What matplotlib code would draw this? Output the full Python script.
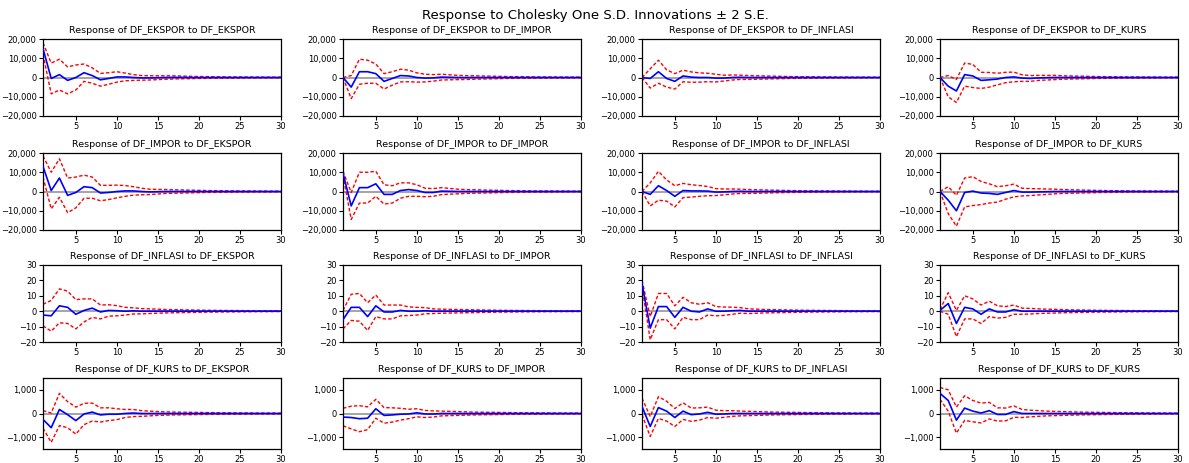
import matplotlib
matplotlib.use("Agg")
import matplotlib.pyplot as plt
import matplotlib.ticker as mticker
import numpy as np

plt.rcParams['font.family'] = ['DejaVu Sans']

periods = np.arange(1, 31)
shocks = ["DF_EKSPOR", "DF_IMPOR", "DF_INFLASI", "DF_KURS"]

# impulse responses (rows = response variable, cols = shock) and 2 S.E. widths
irf_ekspor_ekspor = [15000, -500, 1500, -1500, 0, 2500, 1000, -1200, -500, 300, 300, 0, -200, -200, -100,
                     0, 50, 50, 0, 0, 0, 0, 0, 0, 0, 0, 0, 0, 0, 0]
se2_ekspor_ekspor = [3000, 8000, 8000, 7000, 6500, 4500, 4000, 3300, 3000, 2700, 2000, 1500, 1200, 1100, 1000,
                     900, 800, 700, 600, 500, 450, 400, 350, 300, 300, 250, 250, 200, 200, 200]
irf_ekspor_impor = [0, -5000, 3000, 3000, 2000, -2000, -500, 1000, 800, 0, -300, -200, 200, 100, 0,
                    -50, 0, 0, 0, 0, 0, 0, 0, 0, 0, 0, 0, 0, 0, 0]
se2_ekspor_impor = [0, 6000, 6500, 6000, 5000, 4000, 3500, 3300, 3000, 2400, 2000, 1700, 1500, 1300, 1100,
                    1000, 900, 800, 700, 600, 500, 450, 400, 350, 300, 300, 250, 250, 200, 200]
irf_ekspor_inflasi = [0, -500, 3000, -500, -2000, 800, 200, 0, 0, -300, -300, 0, 100, 0, 0,
                      0, 0, 0, 0, 0, 0, 0, 0, 0, 0, 0, 0, 0, 0, 0]
se2_ekspor_inflasi = [0, 5000, 6000, 4500, 4000, 3000, 2700, 2400, 2200, 2000, 1500, 1300, 1100, 1000, 900,
                      800, 700, 600, 500, 450, 400, 350, 300, 300, 250, 250, 200, 200, 150, 150]
irf_ekspor_kurs = [0, -4500, -7000, 1500, 800, -1500, -1200, -800, 0, 300, -300, -500, -200, -100, 0,
                   0, 0, 0, 0, 0, 0, 0, 0, 0, 0, 0, 0, 0, 0, 0]
se2_ekspor_kurs = [0, 5500, 6000, 6000, 6000, 4200, 3800, 3000, 2700, 2500, 1700, 1500, 1300, 1200, 1100,
                   900, 800, 700, 600, 500, 450, 400, 350, 300, 300, 250, 250, 200, 200, 200]

irf_impor_ekspor = [13000, 500, 7000, -2000, -500, 2500, 2000, -800, -500, 0, 300, 300, 0, -200, -100,
                    0, 0, 0, 0, 0, 0, 0, 0, 0, 0, 0, 0, 0, 0, 0]
se2_impor_ekspor = [5500, 9500, 10000, 9000, 8000, 6000, 5500, 4000, 3700, 3300, 2800, 2200, 1700, 1400, 1200,
                    1000, 900, 800, 700, 600, 500, 450, 400, 350, 300, 300, 250, 250, 200, 200]
irf_impor_impor = [9500, -7500, 2000, 2000, 4000, -1500, -1500, 500, 1000, 500, -500, -500, 200, 100, 0,
                   0, 0, 0, 0, 0, 0, 0, 0, 0, 0, 0, 0, 0, 0, 0]
se2_impor_impor = [1000, 7000, 8000, 8000, 6500, 5000, 4500, 4000, 3500, 3000, 2200, 2000, 1800, 1500, 1200,
                   1000, 900, 800, 700, 600, 500, 450, 400, 350, 300, 300, 250, 250, 200, 200]
irf_impor_inflasi = [0, -1500, 3000, 500, -2500, 500, 300, 300, 200, -300, -200, 0, 100, 0, 0,
                     0, 0, 0, 0, 0, 0, 0, 0, 0, 0, 0, 0, 0, 0, 0]
se2_impor_inflasi = [0, 6000, 7500, 5500, 5500, 3700, 3200, 2800, 2400, 1800, 1500, 1300, 1100, 1000, 900,
                     800, 700, 600, 500, 450, 400, 350, 300, 300, 250, 250, 200, 200, 150, 150]
irf_impor_kurs = [0, -4500, -10000, -500, 200, -800, -1000, -1500, -500, 500, -300, -300, -200, -100, 0,
                  0, 0, 0, 0, 0, 0, 0, 0, 0, 0, 0, 0, 0, 0, 0]
se2_impor_kurs = [0, 7000, 8000, 7500, 7500, 6000, 5000, 4000, 3500, 3300, 2000, 1800, 1600, 1400, 1200,
                  1000, 900, 800, 700, 600, 500, 450, 400, 350, 300, 300, 250, 250, 200, 200]

irf_inflasi_ekspor = [-2.5, -3, 3.5, 2.5, -2, 0.5, 2, -0.5, 0.5, 0.3, 0, 0.2, 0, 0, 0,
                      0, 0, 0, 0, 0, 0, 0, 0, 0, 0, 0, 0, 0, 0, 0]
se2_inflasi_ekspor = [7, 10, 11, 10.5, 9.5, 7.5, 6, 4.5, 3.7, 3.3, 2.5, 2, 1.7, 1.5, 1.3,
                      1.1, 1.0, 0.9, 0.8, 0.7, 0.6, 0.55, 0.5, 0.45, 0.4, 0.35, 0.3, 0.3, 0.25, 0.25]
irf_inflasi_impor = [-5.5, 2.5, 2.5, -3.5, 3.5, -0.5, -0.5, 0.5, 0, 0, 0.3, 0, 0, 0, 0,
                     0, 0, 0, 0, 0, 0, 0, 0, 0, 0, 0, 0, 0, 0, 0]
se2_inflasi_impor = [6, 8.5, 9, 9, 7, 4.5, 4.5, 3.5, 2.8, 2.5, 2, 1.5, 1.3, 1.2, 1.1,
                     1.0, 0.9, 0.8, 0.7, 0.6, 0.55, 0.5, 0.45, 0.4, 0.35, 0.3, 0.3, 0.25, 0.25, 0.2]
irf_inflasi_inflasi = [18, -11, 3, 3, -4, 2.5, 0, -0.5, 1.5, 0, 0, 0.3, 0.5, 0, 0,
                       0, 0, 0, 0, 0, 0, 0, 0, 0, 0, 0, 0, 0, 0, 0]
se2_inflasi_inflasi = [2, 7.5, 8.5, 8.5, 7.5, 6.5, 5.5, 5, 4, 3, 2.7, 2.3, 1.8, 1.5, 1.3,
                       1.1, 1.0, 0.9, 0.8, 0.7, 0.6, 0.55, 0.5, 0.45, 0.4, 0.35, 0.3, 0.3, 0.25, 0.25]
irf_inflasi_kurs = [0.5, 5, -8, 2.5, 1.5, -2, 1.5, -0.5, -0.5, 1, 0, 0, 0, 0, 0,
                    0, 0, 0, 0, 0, 0, 0, 0, 0, 0, 0, 0, 0, 0, 0]
se2_inflasi_kurs = [0.5, 7, 8.5, 7.5, 6.5, 6, 5, 4, 3.5, 3, 2, 1.8, 1.5, 1.3, 1.2,
                    1.0, 0.9, 0.8, 0.7, 0.6, 0.55, 0.5, 0.45, 0.4, 0.35, 0.3, 0.3, 0.25, 0.25, 0.2]

irf_kurs_ekspor = [-250, -600, 170, -50, -300, -20, 60, -60, -30, -30, 0, 20, 0, 0, 0,
                   0, 0, 0, 0, 0, 0, 0, 0, 0, 0, 0, 0, 0, 0, 0]
se2_kurs_ekspor = [370, 620, 680, 550, 570, 450, 380, 300, 270, 230, 170, 150, 120, 100, 80,
                   70, 60, 55, 50, 45, 40, 35, 30, 30, 25, 25, 20, 20, 20, 15]
irf_kurs_impor = [-150, -170, -220, -200, 200, -80, -60, -30, -20, 30, -20, -20, 0, 0, 0,
                  0, 0, 0, 0, 0, 0, 0, 0, 0, 0, 0, 0, 0, 0, 0]
se2_kurs_impor = [370, 480, 550, 480, 400, 330, 300, 250, 200, 170, 150, 130, 100, 90, 80,
                  70, 60, 55, 50, 45, 40, 35, 30, 30, 25, 25, 20, 20, 20, 15]
irf_kurs_inflasi = [300, -550, 250, 100, -170, 100, -50, -20, 50, -30, -20, 0, 0, 0, 0,
                    0, 0, 0, 0, 0, 0, 0, 0, 0, 0, 0, 0, 0, 0, 0]
se2_kurs_inflasi = [350, 420, 460, 420, 380, 350, 280, 260, 220, 170, 140, 120, 100, 90, 80,
                    70, 60, 55, 50, 45, 40, 35, 30, 30, 25, 25, 20, 20, 20, 15]
irf_kurs_kurs = [850, 550, -280, 230, 100, 20, 120, -40, -40, 80, 0, 0, 0, 0, 0,
                 0, 0, 0, 0, 0, 0, 0, 0, 0, 0, 0, 0, 0, 0, 0]
se2_kurs_kurs = [250, 450, 550, 520, 450, 420, 350, 280, 270, 240, 170, 140, 120, 100, 90,
                 80, 70, 60, 55, 50, 45, 40, 35, 30, 30, 25, 25, 20, 20, 15]

irf_rows = [
    [irf_ekspor_ekspor, irf_ekspor_impor, irf_ekspor_inflasi, irf_ekspor_kurs],
    [irf_impor_ekspor, irf_impor_impor, irf_impor_inflasi, irf_impor_kurs],
    [irf_inflasi_ekspor, irf_inflasi_impor, irf_inflasi_inflasi, irf_inflasi_kurs],
    [irf_kurs_ekspor, irf_kurs_impor, irf_kurs_inflasi, irf_kurs_kurs],
]
se2_rows = [
    [se2_ekspor_ekspor, se2_ekspor_impor, se2_ekspor_inflasi, se2_ekspor_kurs],
    [se2_impor_ekspor, se2_impor_impor, se2_impor_inflasi, se2_impor_kurs],
    [se2_inflasi_ekspor, se2_inflasi_impor, se2_inflasi_inflasi, se2_inflasi_kurs],
    [se2_kurs_ekspor, se2_kurs_impor, se2_kurs_inflasi, se2_kurs_kurs],
]

# y axis setup per row
row_ylim = [(-20000, 20000), (-20000, 20000), (-20, 30), (-1500, 1500)]
row_yticks = [[-20000, -10000, 0, 10000, 20000], [-20000, -10000, 0, 10000, 20000],
              [-20, -10, 0, 10, 20, 30], [-1000, 0, 1000]]

W, H = 1189, 463
fig = plt.figure(figsize=(W / 100, H / 100), dpi=100)

col_left = [43, 343, 642, 940]
row_top = [39, 153, 265, 378]
row_h = [77, 77, 77, 71]
ax_w = 238

for r in range(4):
    for c in range(4):
        ax = fig.add_axes([col_left[c] / W, 1 - (row_top[r] + row_h[r]) / H, ax_w / W, row_h[r] / H])
        irf = np.array(irf_rows[r][c])
        se2 = np.array(se2_rows[r][c])
        ax.axhline(0, color='#8c8c8c', lw=1.1, zorder=1)
        ax.plot(periods, irf + se2, color='#ff0000', lw=1.0, ls=(0, (2.5, 1.5)), zorder=2)
        ax.plot(periods, irf - se2, color='#ff0000', lw=1.0, ls=(0, (2.5, 1.5)), zorder=2)
        ax.plot(periods, irf, color='#0000ff', lw=1.2, zorder=3)
        ax.set_xlim(1, 30)
        ax.set_ylim(*row_ylim[r])
        ax.set_xticks([5, 10, 15, 20, 25, 30])
        ax.set_yticks(row_yticks[r])
        ax.yaxis.set_major_formatter(mticker.StrMethodFormatter('{x:,.0f}'))
        ax.tick_params(axis='both', direction='out', length=3, width=0.8, labelsize=6, pad=1.5)
        for s in ax.spines.values():
            s.set_linewidth(0.9)
        ax.set_title("Response of %s to %s" % (shocks[r], shocks[c]), fontsize=6.8, pad=4)

fig.text(595 / W, 1 - 15 / H, "Response to Cholesky One S.D. Innovations \u00b1 2 S.E.",
         ha='center', va='center', fontsize=9.5)

fig.savefig("out.png", dpi=100)
